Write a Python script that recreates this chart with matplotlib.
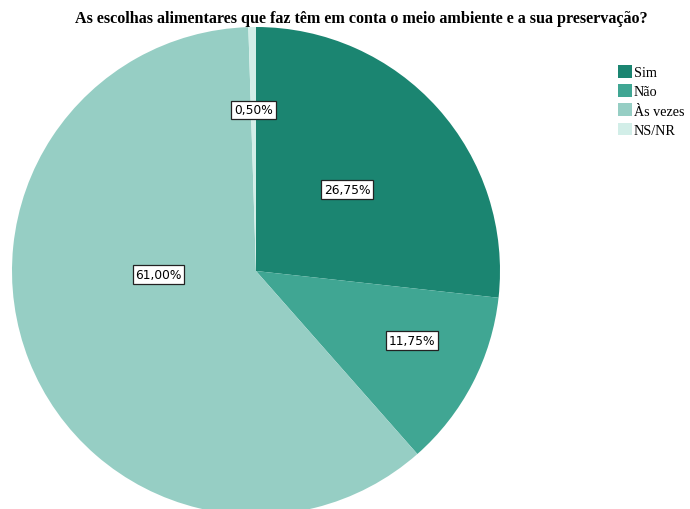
import matplotlib
matplotlib.use("Agg")
import matplotlib.pyplot as plt
import numpy as np

categories = ["Sim", "Não", "Às vezes", "NS/NR"]
values = [26.75, 11.75, 61.00, 0.50]
colors = ["#1b8571", "#40a693", "#96cec4", "#d2eee8"]
title = "As escolhas alimentares que faz têm em conta o meio ambiente e a sua preservação?"

# label placement per slice: (radius fraction, angular offset in degrees)
label_place = [(0.50, 0.0), (0.70, 3.5), (0.40, -19.5), (0.66, 0.0)]

fig = plt.figure(figsize=(6.9, 5.1), dpi=100)
ax = fig.add_axes([12 / 690, -6 / 510, 488 / 690, 488 / 510])
wedges, _ = ax.pie(values, colors=colors, startangle=90, counterclock=False,
                   radius=1.0, wedgeprops=dict(linewidth=0))
ax.set_xlim(-1, 1)
ax.set_ylim(-1, 1)
ax.set_aspect("equal")
ax.axis("off")

for w, v, (rf, off) in zip(wedges, values, label_place):
    ang = np.deg2rad((w.theta1 + w.theta2) / 2 + off)
    txt = f"{v:.2f}%".replace(".", ",")
    ax.text(rf * np.cos(ang), rf * np.sin(ang), txt, ha="center", va="center",
            fontsize=8.8, family="DejaVu Sans",
            bbox=dict(boxstyle="square,pad=0.22", facecolor="white",
                      edgecolor="#222222", linewidth=0.9))

fig.text(361 / 690, 1 - 19 / 510, title, ha="center", va="center",
         fontsize=11.6, fontweight="bold", family="Liberation Serif")

leg = fig.legend(wedges, categories, loc="upper left",
                 bbox_to_anchor=(615 / 690, 1 - 63 / 510), frameon=False,
                 prop=dict(family="Liberation Serif", size=10.2),
                 handlelength=1.0, handleheight=1.0, handletextpad=0.12,
                 labelspacing=0.36, borderpad=0.2, borderaxespad=0.0)

fig.savefig("out.png", dpi=100)
